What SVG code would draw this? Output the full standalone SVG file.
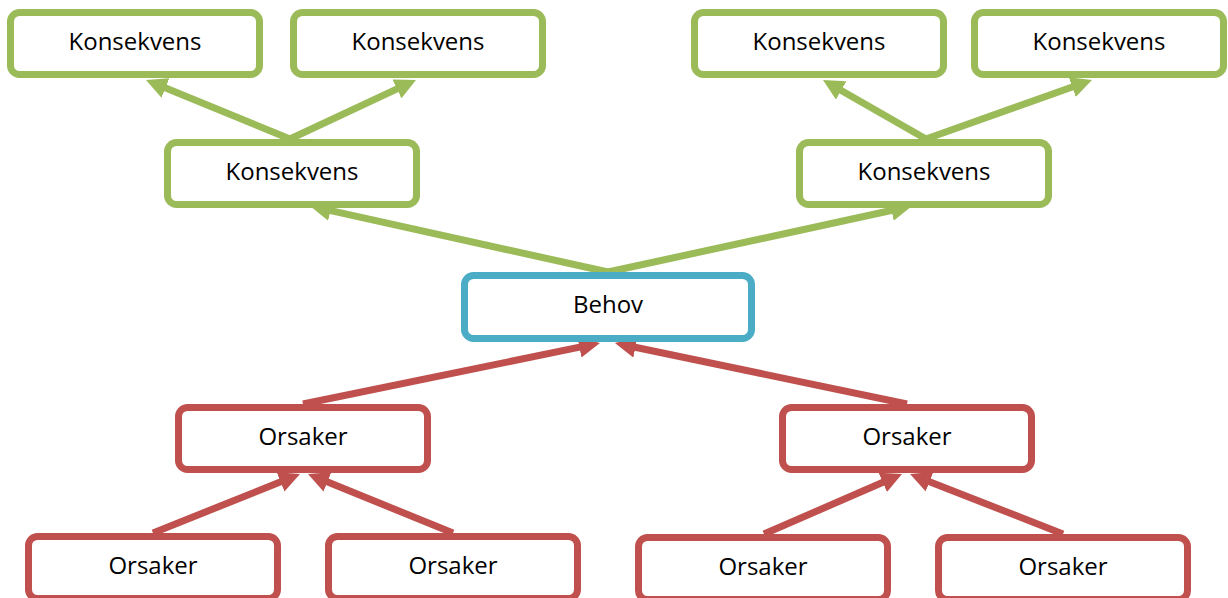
<svg xmlns="http://www.w3.org/2000/svg" width="1228" height="598" viewBox="0 0 1228 598">
<style>
.box{fill:#ffffff;stroke-width:7}
.g{stroke:#9BBB59}
.b{stroke:#4BACC6}
.r{stroke:#C0504D}
.t{font-family:"Open Sans","Liberation Sans",sans-serif;font-size:24px;fill:#000;text-anchor:middle}
.cg{stroke:#9BBB59;stroke-width:7;fill:none;marker-end:url(#ag)}
.cr{stroke:#C0504D;stroke-width:7;fill:none;marker-end:url(#ar)}
</style>
<defs>
<marker id="ag" markerUnits="userSpaceOnUse" markerWidth="21" markerHeight="21" viewBox="0 0 21 21" refX="9" refY="10.5" orient="auto"><path d="M0,0 L21,10.5 L0,21 z" fill="#9BBB59"/></marker>
<marker id="ar" markerUnits="userSpaceOnUse" markerWidth="21" markerHeight="21" viewBox="0 0 21 21" refX="9" refY="10.5" orient="auto"><path d="M0,0 L21,10.5 L0,21 z" fill="#C0504D"/></marker>
</defs>
<rect width="1228" height="598" fill="#ffffff"/>
<g id="connectors">
<line class="cg" x1="290" y1="139" x2="157.1" y2="84.55"/>
<line class="cg" x1="290" y1="139" x2="405.1" y2="85.1"/>
<line class="cg" x1="926" y1="139" x2="833.4" y2="86"/>
<line class="cg" x1="926" y1="139" x2="1080.7" y2="84"/>
<line class="cg" x1="608" y1="272" x2="321.7" y2="208.6"/>
<line class="cg" x1="608" y1="272" x2="900.3" y2="208.5"/>
<line class="cr" x1="303" y1="404" x2="588.2" y2="345.4"/>
<line class="cr" x1="907" y1="404" x2="626.7" y2="345.5"/>
<line class="cr" x1="153" y1="533" x2="288.9" y2="478.5"/>
<line class="cr" x1="453" y1="533" x2="319.1" y2="478.5"/>
<line class="cr" x1="764" y1="534" x2="891" y2="478.8"/>
<line class="cr" x1="1063" y1="534" x2="921.2" y2="478.4"/>
</g>
<g id="k1"><rect class="box g" x="10.5" y="12.5" width="249" height="62" rx="9"/><text class="t" x="135" y="50">Konsekvens</text></g>
<g id="k2"><rect class="box g" x="293.5" y="12.5" width="249" height="62" rx="9"/><text class="t" x="418" y="50">Konsekvens</text></g>
<g id="k3"><rect class="box g" x="694.5" y="12.5" width="249" height="62" rx="9"/><text class="t" x="819" y="50">Konsekvens</text></g>
<g id="k4"><rect class="box g" x="974.5" y="12.5" width="249" height="62" rx="9"/><text class="t" x="1099" y="50">Konsekvens</text></g>
<g id="k5"><rect class="box g" x="167.5" y="142.5" width="249" height="62" rx="9"/><text class="t" x="292" y="180">Konsekvens</text></g>
<g id="k6"><rect class="box g" x="799.5" y="142.5" width="249" height="62" rx="9"/><text class="t" x="924" y="180">Konsekvens</text></g>
<g id="behov"><rect class="box b" x="464.5" y="275.5" width="287" height="63" rx="9"/><text class="t" x="608" y="313">Behov</text></g>
<g id="o1"><rect class="box r" x="178.5" y="407.5" width="249" height="62" rx="9"/><text class="t" x="303" y="445">Orsaker</text></g>
<g id="o2"><rect class="box r" x="782.5" y="407.5" width="249" height="62" rx="9"/><text class="t" x="907" y="445">Orsaker</text></g>
<g id="o3"><rect class="box r" x="28.5" y="536.5" width="249" height="62" rx="9"/><text class="t" x="153" y="574">Orsaker</text></g>
<g id="o4"><rect class="box r" x="328.5" y="536.5" width="249" height="62" rx="9"/><text class="t" x="453" y="574">Orsaker</text></g>
<g id="o5"><rect class="box r" x="638.5" y="537.5" width="249" height="62" rx="9"/><text class="t" x="763" y="575">Orsaker</text></g>
<g id="o6"><rect class="box r" x="938.5" y="537.5" width="249" height="62" rx="9"/><text class="t" x="1063" y="575">Orsaker</text></g>
</svg>
